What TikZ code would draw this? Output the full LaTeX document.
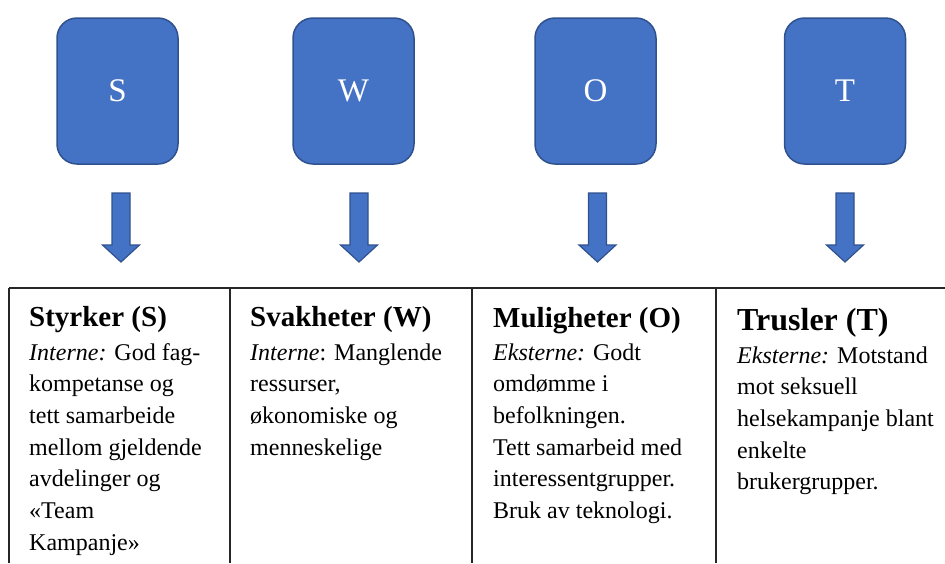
\documentclass[tikz,border=0pt]{standalone}
\usepackage{fontspec}
\setmainfont{Liberation Serif}
\usepackage{tikz}
\usepackage{xcolor}
\usetikzlibrary{positioning}
\definecolor{swotblue}{HTML}{4472C4}
\definecolor{swotedge}{HTML}{2F528F}

\begin{document}
\begin{tikzpicture}[x=1pt,y=-1pt,
  letterbox/.style={draw=swotedge,fill=swotblue,line width=1.5pt,rounded corners=20pt,minimum width=121pt,minimum height=146pt,text=white,font=\fontsize{33}{33}\selectfont},
  blockarr/.style={draw=swotedge,fill=swotblue,line width=1.2pt,line join=miter},
  grid/.style={line width=1.5pt,black!85},
  head/.style={anchor=base west,inner sep=0pt,font=\fontsize{29}{34}\selectfont\bfseries},
  cell/.style={anchor=base west,align=left,inner sep=0pt,font=\fontsize{24}{31.7}\selectfont}
]
\useasboundingbox (0,0) rectangle (945,563);

% the four letters
\node[letterbox] (S) at (117.5,91) {S};
\node[letterbox] (W) at (353.5,91) {W};
\node[letterbox] (O) at (595.5,91) {O};
\node[letterbox] (T) at (845,91) {T};

% block arrows down to the table
\foreach \x in {121,359,597.5,845}
  \draw[blockarr] ({\x-9},193) -- ({\x+9},193) -- ({\x+9},245) -- ({\x+18.5},245)
    -- (\x,262) -- ({\x-18.5},245) -- ({\x-9},245) -- cycle;

% table
\draw[grid] (9,288) -- (945,288);
\foreach \x in {9,230,472,716}
  \draw[grid] (\x,288) -- (\x,563);

% column texts (cells sit on the baseline of their last line)
\node[head] (hS) at (29,326) {Styrker (S)};
\node[cell] (bS) at (29,550.2) {{\itshape Interne:} God fag-\\kompetanse og\\tett samarbeide\\mellom gjeldende\\avdelinger og\\«Team\\Kampanje»};

\node[head] (hW) at (250,326) {Svakheter (W)};
\node[cell] (bW) at (250,455.1) {{\itshape Interne}: Manglende\\ressurser,\\økonomiske og\\menneskelige};

\node[head] (hO) at (493,327) {Muligheter (O)};
\node[cell] (bO) at (493,518.5) {{\itshape Eksterne:} Godt\\omdømme i\\befolkningen.\\Tett samarbeid med\\interessentgrupper.\\Bruk av teknologi.};

\node[head,font=\fontsize{32}{36}\selectfont\bfseries] (hT) at (737,330) {Trusler (T)};
\node[cell] (bT) at (737,489.8) {{\itshape Eksterne:} Motstand\\mot seksuell\\helsekampanje blant\\enkelte\\brukergrupper.};
\end{tikzpicture}
\end{document}
